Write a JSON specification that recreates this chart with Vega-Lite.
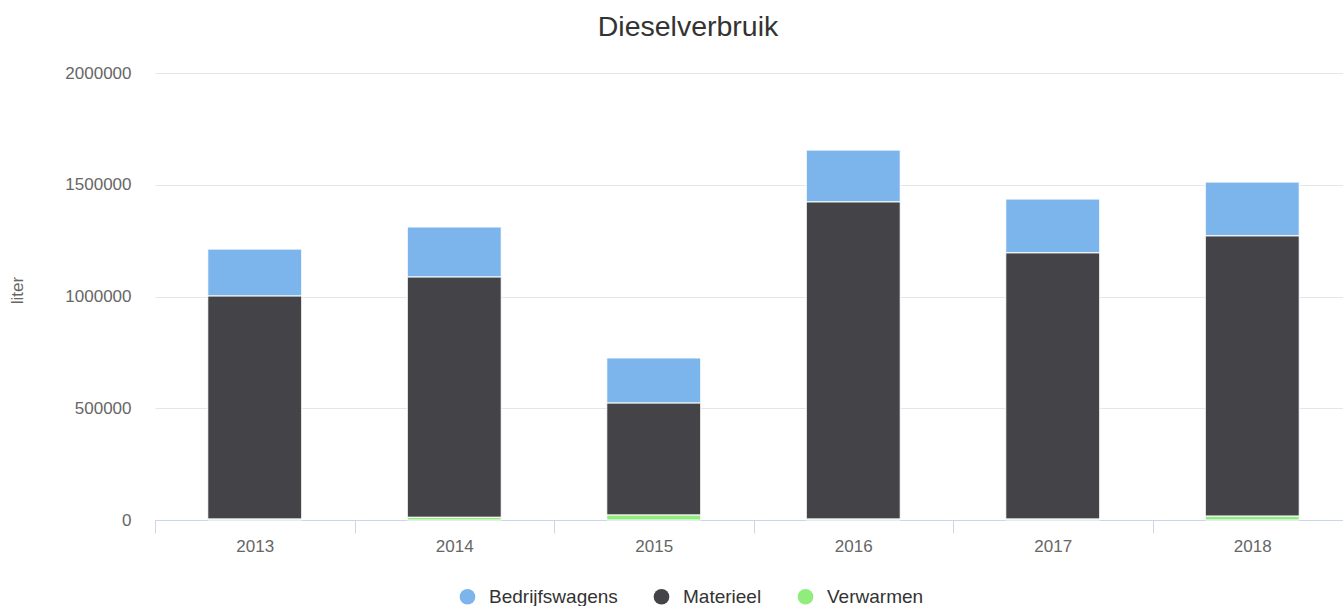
{
  "$schema": "https://vega.github.io/schema/vega-lite/v6.json",
  "width": 1188,
  "height": 447,
  "autosize": {"type": "none"},
  "padding": {"left": 155, "top": 73, "right": 0, "bottom": 86},
  "background": "white",
  "title": {
    "text": "Dieselverbruik",
    "font": "Liberation Sans",
    "fontSize": 28.5,
    "fontWeight": "normal",
    "color": "#333333",
    "anchor": "middle",
    "frame": "group",
    "dx": -61,
    "baseline": "alphabetic",
    "offset": 0
  },
  "data": {
    "values": [
      {"jaar": "2013", "serie": "Bedrijfswagens", "liter": 210000},
      {"jaar": "2013", "serie": "Materieel", "liter": 998000},
      {"jaar": "2013", "serie": "Verwarmen", "liter": 4000},
      {"jaar": "2014", "serie": "Bedrijfswagens", "liter": 224000},
      {"jaar": "2014", "serie": "Materieel", "liter": 1075000},
      {"jaar": "2014", "serie": "Verwarmen", "liter": 12000},
      {"jaar": "2015", "serie": "Bedrijfswagens", "liter": 202000},
      {"jaar": "2015", "serie": "Materieel", "liter": 501000},
      {"jaar": "2015", "serie": "Verwarmen", "liter": 22000},
      {"jaar": "2016", "serie": "Bedrijfswagens", "liter": 232000},
      {"jaar": "2016", "serie": "Materieel", "liter": 1419000},
      {"jaar": "2016", "serie": "Verwarmen", "liter": 4000},
      {"jaar": "2017", "serie": "Bedrijfswagens", "liter": 241000},
      {"jaar": "2017", "serie": "Materieel", "liter": 1191000},
      {"jaar": "2017", "serie": "Verwarmen", "liter": 4000},
      {"jaar": "2018", "serie": "Bedrijfswagens", "liter": 241000},
      {"jaar": "2018", "serie": "Materieel", "liter": 1254000},
      {"jaar": "2018", "serie": "Verwarmen", "liter": 17000}
    ]
  },
  "mark": {"type": "bar", "width": {"band": 0.471}, "stroke": "white", "strokeWidth": 1},
  "encoding": {
    "x": {
      "field": "jaar",
      "type": "ordinal",
      "scale": {"paddingInner": 0, "paddingOuter": 0, "range": [0, 1197]},
      "axis": {
        "title": null,
        "labelAngle": 0,
        "labelFont": "Liberation Sans",
        "labelFontSize": 17,
        "labelColor": "#666666",
        "labelBaseline": "alphabetic",
        "labelPadding": 18,
        "domainColor": "#ccd6eb",
        "domainWidth": 1,
        "tickColor": "#ccd6eb",
        "tickSize": 13,
        "tickWidth": 1,
        "tickBand": "extent",
        "grid": false
      }
    },
    "y": {
      "field": "liter",
      "type": "quantitative",
      "aggregate": "sum",
      "stack": "zero",
      "scale": {"domain": [0, 2000000], "nice": false},
      "axis": {
        "title": "liter",
        "titleFont": "Liberation Sans",
        "titleFontSize": 17,
        "titleFontWeight": "normal",
        "titleColor": "#666666",
        "titleAngle": -90,
        "titleX": -138,
        "titleY": 217,
        "titleAlign": "center",
        "titleBaseline": "middle",
        "values": [0, 500000, 1000000, 1500000, 2000000],
        "format": "d",
        "labelFont": "Liberation Sans",
        "labelFontSize": 17,
        "labelColor": "#666666",
        "labelPadding": 24,
        "ticks": false,
        "tickSize": 0,
        "domain": false,
        "grid": true,
        "gridColor": "#e6e6e6",
        "gridWidth": 1
      }
    },
    "color": {
      "field": "serie",
      "type": "nominal",
      "scale": {
        "domain": ["Bedrijfswagens", "Materieel", "Verwarmen"],
        "range": ["#7cb5ec", "#434348", "#90ed7d"]
      },
      "legend": {
        "title": null,
        "orient": "none",
        "direction": "horizontal",
        "legendX": 303,
        "legendY": 514,
        "padding": 0,
        "symbolType": "circle",
        "symbolSize": 246,
        "symbolStrokeWidth": 0,
        "labelFont": "Liberation Sans",
        "labelFontSize": 19,
        "labelColor": "#333333",
        "labelOffset": 12,
        "columnPadding": 34
      }
    },
    "order": {"field": "serie", "sort": "descending"}
  },
  "config": {
    "view": {"stroke": null},
    "axis": {"labelFont": "Liberation Sans"}
  }
}
